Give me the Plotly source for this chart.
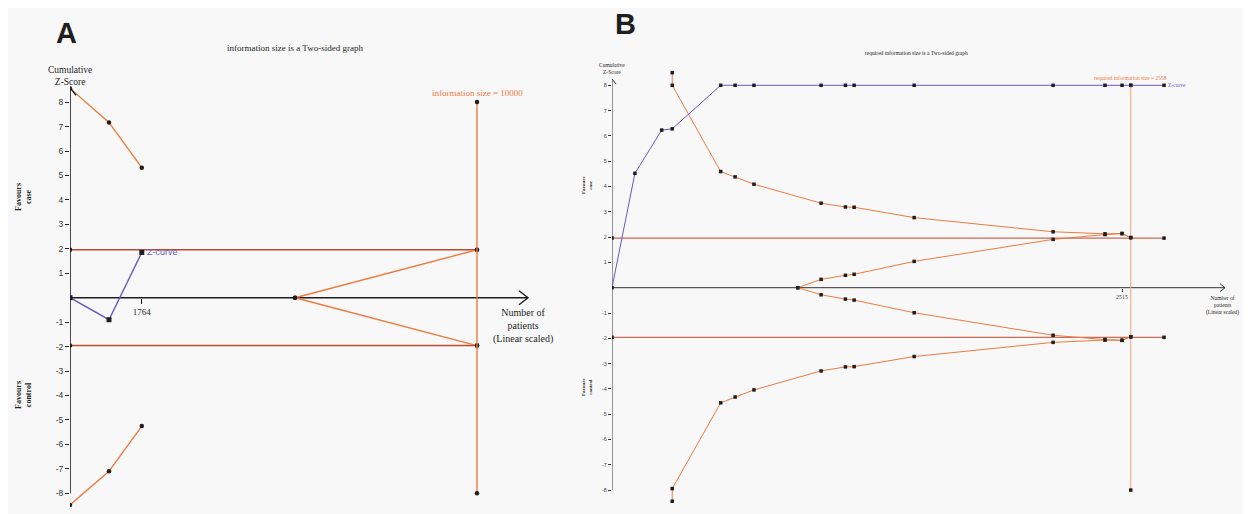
import plotly.graph_objects as go

# ---------------- Panel A data ----------------
a_z_x = [0, 958, 1764]
a_z_y = [0, -0.9, 1.85]
a_bound_x = [0, 958, 1764]
a_upper = [8.56, 7.17, 5.32]
a_lower = [-8.48, -7.10, -5.25]
a_conv = 1.96
a_info_size = 10000
a_fut_x = [5530, 10000]
a_fut_up = [0, 1.96]
a_fut_low = [0, -1.96]
a_tick_x = [1764]
a_tick_text = ["1764"]
y_tick_vals = [-8, -7, -6, -5, -4, -3, -2, -1, 1, 2, 3, 4, 5, 6, 7, 8]
y_tick_text = ["-8", "-7", "-6", "-5", "-4", "-3", "-2", "-1", "1", "2", "3", "4", "5", "6", "7", "8"]

# ---------------- Panel B data ----------------
b_z_x = [0, 113, 245, 297, 536, 607, 700, 1031, 1151, 1194, 1490, 2175, 2431, 2515, 2558, 2722]
b_z_y = [0, 4.52, 6.23, 6.28, 8, 8, 8, 8, 8, 8, 8, 8, 8, 8, 8, 8]
b_bound_x = [297, 297, 536, 607, 700, 1031, 1151, 1194, 1490, 2175, 2431, 2515, 2558]
b_upper = [8.5, 8.0, 4.59, 4.38, 4.09, 3.34, 3.19, 3.18, 2.77, 2.21, 2.13, 2.14, 1.98]
b_lower = [-8.44, -7.94, -4.55, -4.32, -4.04, -3.29, -3.13, -3.12, -2.72, -2.16, -2.07, -2.08, -1.94]
b_fut_x = [916, 1031, 1151, 1194, 1490, 2175, 2431, 2515, 2558]
b_fut_up = [0, 0.33, 0.49, 0.53, 1.04, 1.91, 2.10, 2.14, 1.98]
b_fut_low = [0, -0.28, -0.45, -0.49, -0.99, -1.88, -2.05, -2.08, -1.94]
b_conv = 1.96
b_conv_end = 2722
b_ris = 2558
b_tick_x = [2515]
b_tick_text = ["2515"]

# ---------------- styles ----------------
ORANGE = "#ee7a3f"
ORANGE_LIGHT = "#f4a57c"
BROWN = "#b84a2e"
PURPLE = "#6a58c4"
BLACK = "#1e1e1e"
SERIF = "Liberation Serif"
SANS = "Liberation Sans"
BG = "#f8f8f8"

# The page adds an 8px body margin; positions below are screenshot pixels.
OX, OY = 8, 8
W, H = 1251 - OX, 514 - OY

def fx(px):
    return (px - OX) / W

def fy(py):
    return 1 - (py - OY) / H

# pixel geometry of the two plotting frames (screenshot pixels)
A_X0, A_PPX = 70, 0.0407      # px at 0 patients, px per patient
A_Y0, A_PPY = 297.7, 24.45    # px of z=0, px per z unit
B_X0, B_PPX = 612, 0.2028
B_Y0, B_PPY = 287.7, 25.3

fig = go.Figure()

def line(x, y, color, width, xa, ya, markers=True, msize=4.5, symbol="circle"):
    fig.add_trace(go.Scatter(
        x=x, y=y, xaxis=xa, yaxis=ya,
        mode="lines+markers" if markers else "lines",
        line=dict(color=color, width=width),
        marker=dict(color=BLACK, size=msize, symbol=symbol),
        hoverinfo="skip", showlegend=False))

# ---- Panel A traces ----
A_XEND = (528 - A_X0) / A_PPX
line([0, A_XEND], [0, 0], BLACK, 1.6, "x", "y", markers=False)
line([0, 0], [-8, 8.6], BLACK, 1.6, "x", "y", markers=False)
line([0, a_info_size], [a_conv, a_conv], BROWN, 1.5, "x", "y")
line([0, a_info_size], [-a_conv, -a_conv], BROWN, 1.5, "x", "y")
line(a_fut_x, a_fut_up, ORANGE, 1.4, "x", "y")
line(a_fut_x, a_fut_low, ORANGE, 1.4, "x", "y")
line([a_info_size, a_info_size], [-8, 8], ORANGE, 1.4, "x", "y")
line(a_bound_x, a_upper, ORANGE, 1.4, "x", "y")
line(a_bound_x, a_lower, ORANGE, 1.4, "x", "y")
line(a_z_x, a_z_y, PURPLE, 1.4, "x", "y", msize=5, symbol="square")

# ---- Panel B traces ----
B_XEND = (1225 - B_X0) / B_PPX
line([0, B_XEND], [0, 0], "#333333", 1.0, "x2", "y2", markers=False)
line([0, 0], [-8, 8.25], "#333333", 1.0, "x2", "y2", markers=False)
line([0, b_conv_end], [b_conv, b_conv], BROWN, 1.0, "x2", "y2", msize=3.5, symbol="square")
line([0, b_conv_end], [-b_conv, -b_conv], BROWN, 1.0, "x2", "y2", msize=3.5, symbol="square")
line([b_ris, b_ris], [-8, 8], ORANGE_LIGHT, 1.0, "x2", "y2", msize=3.5, symbol="square")
line(b_fut_x, b_fut_up, ORANGE, 1.0, "x2", "y2", msize=3.5, symbol="square")
line(b_fut_x, b_fut_low, ORANGE, 1.0, "x2", "y2", msize=3.5, symbol="square")
line(b_bound_x, b_upper, ORANGE, 1.0, "x2", "y2", msize=3.5, symbol="square")
line(b_bound_x, b_lower, ORANGE, 1.0, "x2", "y2", msize=3.5, symbol="square")
line(b_z_x, b_z_y, PURPLE, 1.0, "x2", "y2", msize=3.5, symbol="square")

# ---- axes ----
common = dict(showgrid=False, zeroline=False, showline=False, fixedrange=True, automargin=False)

fig.update_layout(
    width=W, height=H,
    margin=dict(l=0, r=0, t=0, b=0),
    paper_bgcolor=BG, plot_bgcolor="rgba(0,0,0,0)",
    xaxis=dict(domain=[fx(A_X0), fx(548)], range=[0, (548 - A_X0) / A_PPX], anchor="free",
               position=fy(A_Y0), tickvals=a_tick_x, ticktext=a_tick_text,
               ticks="outside", ticklen=5, tickcolor=BLACK,
               tickfont=dict(family=SERIF, size=9, color=BLACK), **common),
    yaxis=dict(domain=[fy(510), fy(60)], range=[(A_Y0 - 510) / A_PPY, (A_Y0 - 60) / A_PPY],
               anchor="x", tickvals=y_tick_vals, ticktext=y_tick_text,
               ticks="outside", ticklen=4, tickcolor=BLACK,
               tickfont=dict(family=SANS, size=8.5, color="#333"), **common),
    xaxis2=dict(domain=[fx(B_X0), fx(1248)], range=[0, (1248 - B_X0) / B_PPX], anchor="free",
                position=fy(B_Y0), tickvals=b_tick_x, ticktext=b_tick_text,
                ticks="outside", ticklen=3, tickcolor="#333",
                tickfont=dict(family=SERIF, size=6, color="#333"), **common),
    yaxis2=dict(domain=[fy(510), fy(55)], range=[(B_Y0 - 510) / B_PPY, (B_Y0 - 55) / B_PPY],
                anchor="x2", tickvals=y_tick_vals, ticktext=y_tick_text,
                ticks="outside", ticklen=3, tickcolor="#333",
                tickfont=dict(family=SANS, size=5.5, color="#444"), **common),
)

shapes = [
    dict(type="path", xref="x", yref="y", xsizemode="pixel", ysizemode="pixel",
         xanchor=A_XEND, yanchor=0, path="M -9 -7 L 0 0 L -9 7",
         line=dict(color=BLACK, width=1.4)),
    dict(type="path", xref="x", yref="y", xsizemode="pixel", ysizemode="pixel",
         xanchor=0, yanchor=8.6, path="M -6 -8 L 0 0 L 6 -8",
         line=dict(color=BLACK, width=1.4)),
    dict(type="path", xref="x2", yref="y2", xsizemode="pixel", ysizemode="pixel",
         xanchor=B_XEND, yanchor=0, path="M -5 -4 L 0 0 L -5 4",
         line=dict(color="#333", width=1)),
    dict(type="path", xref="x2", yref="y2", xsizemode="pixel", ysizemode="pixel",
         xanchor=0, yanchor=8.25, path="M -4 -5 L 0 0 L 4 -5",
         line=dict(color="#333", width=1)),
]
fig.update_layout(shapes=shapes)

def ann(text, x, y, size, color=BLACK, family=SERIF, xref="paper", yref="paper",
        xanchor="center", yanchor="middle", angle=0, xshift=0, yshift=0):
    if xref == "paper":
        x = fx(x)
    if yref == "paper":
        y = fy(y)
    return dict(text=text, x=x, y=y, xref=xref, yref=yref, showarrow=False,
                xanchor=xanchor, yanchor=yanchor, textangle=angle,
                xshift=xshift, yshift=yshift,
                font=dict(family=family, size=size, color=color))

annotations = [
    # Panel A
    ann("<b>A</b>", 66, 33, 29, family=SANS),
    ann("information size is a Two-sided graph", 295, 48, 9),
    ann("Cumulative<br>Z-Score", 70, 76, 9.5),
    ann("<b>Favours<br>case</b>", 23, 197, 8, angle=-90),
    ann("<b>Favours<br>control</b>", 23, 395, 8, angle=-90),
    ann("information size = 10000", a_info_size, 8, 9, color=ORANGE,
        xref="x", yref="y", yanchor="bottom", yshift=2),
    ann("Z-curve", a_z_x[-1], a_z_y[-1], 9, color=PURPLE, family=SANS,
        xref="x", yref="y", xanchor="left", xshift=3),
    ann("Number of<br>patients<br>(Linear scaled)", (523 - A_X0) / A_PPX, 0, 10,
        xref="x", yref="y", yanchor="top", yshift=-7),
    # Panel B
    ann("<b>B</b>", 625, 24, 29, family=SANS),
    ann("required information size is a Two-sided graph", 916, 53, 5.5),
    ann("Cumulative<br>Z-Score", 612, 69, 5.5),
    ann("<b>Favours<br>case</b>", 587, 185, 5, angle=-90),
    ann("<b>Favours<br>control</b>", 587, 387, 5, angle=-90),
    ann("required information size = 2558", b_ris, 8, 5.5, color=ORANGE,
        xref="x2", yref="y2", yanchor="bottom", yshift=2),
    ann("Z-curve", b_z_x[-1], b_z_y[-1], 5.5, color=PURPLE,
        xref="x2", yref="y2", xanchor="left", xshift=2),
    ann("Number of<br>patients<br>(Linear scaled)", (1222 - B_X0) / B_PPX, 0, 5.5,
        xref="x2", yref="y2", yanchor="top", yshift=-5),
]
fig.update_layout(annotations=annotations)

fig.write_html("out.html")
